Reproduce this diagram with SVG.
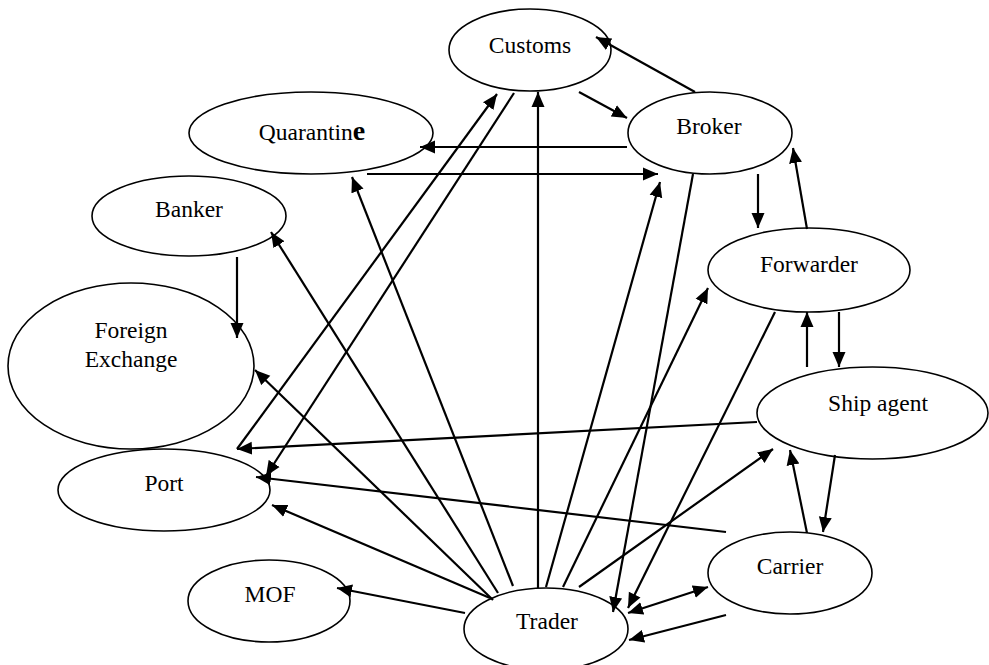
<svg xmlns="http://www.w3.org/2000/svg" width="989" height="665" viewBox="0 0 989 665">
<style>
.node ellipse{fill:#fff;stroke:#000;stroke-width:1.6}
.node text{font-family:"Liberation Serif","Times New Roman",serif;font-size:23.5px;fill:#000;text-anchor:middle}
#connectors line{stroke:#000;stroke-width:2.2;fill:none;marker-end:url(#ah)}
</style>
<defs>
<marker id="ah" markerUnits="userSpaceOnUse" markerWidth="16" markerHeight="14" refX="15" refY="7" orient="auto-start-reverse" viewBox="0 0 16 14">
<path d="M0,0.5 L15,7 L0,13.5 z" fill="#000"/>
</marker>
</defs>
<rect width="989" height="665" fill="#fff"/>
<g id="nodes">
<g id="customs" class="node"><ellipse cx="530" cy="50" rx="81" ry="41"/><text x="530" y="53">Customs</text></g>
<g id="broker" class="node"><ellipse cx="710" cy="133" rx="82" ry="41"/><text x="709" y="134">Broker</text></g>
<g id="quarantine" class="node"><ellipse cx="311" cy="133" rx="122" ry="41"/><text x="312" y="140">Quarantin<tspan font-weight="bold" font-size="28">e</tspan></text></g>
<g id="banker" class="node"><ellipse cx="189" cy="216" rx="97" ry="40"/><text x="189" y="217">Banker</text></g>
<g id="foreign-exchange" class="node"><ellipse cx="131" cy="366" rx="123" ry="83"/><text x="131" y="338">Foreign</text><text x="131" y="367">Exchange</text></g>
<g id="port" class="node"><ellipse cx="164" cy="490" rx="106" ry="41"/><text x="164" y="491">Port</text></g>
<g id="mof" class="node"><ellipse cx="269" cy="601" rx="81" ry="41"/><text x="270" y="602">MOF</text></g>
<g id="trader" class="node"><ellipse cx="546" cy="629" rx="82" ry="41"/><text x="547" y="629">Trader</text></g>
<g id="carrier" class="node"><ellipse cx="790" cy="573" rx="82" ry="41"/><text x="790" y="574">Carrier</text></g>
<g id="ship-agent" class="node"><ellipse cx="872.5" cy="413" rx="115.5" ry="46"/><text x="878" y="411">Ship agent</text></g>
<g id="forwarder" class="node"><ellipse cx="809" cy="270" rx="101" ry="42"/><text x="809" y="272">Forwarder</text></g>
</g>
<g id="connectors">
<line x1="695" y1="92" x2="596" y2="37"/>
<line x1="579" y1="92" x2="627" y2="118"/>
<line x1="627" y1="147" x2="420" y2="147"/>
<line x1="367" y1="174" x2="658" y2="174"/>
<line x1="538" y1="588" x2="538" y2="92"/>
<line x1="237" y1="449" x2="497" y2="94"/>
<line x1="514" y1="93" x2="266" y2="476"/>
<line x1="757" y1="422" x2="237" y2="449"/>
<line x1="726" y1="532" x2="256" y2="477"/>
<line x1="490" y1="598" x2="272" y2="505"/>
<line x1="465" y1="613" x2="337" y2="588"/>
<line x1="493" y1="600" x2="255" y2="370"/>
<line x1="498" y1="593" x2="271" y2="232"/>
<line x1="513" y1="586" x2="352" y2="177"/>
<line x1="546" y1="587" x2="660" y2="182"/>
<line x1="693" y1="174" x2="613" y2="612"/>
<line x1="775" y1="312" x2="628" y2="608"/>
<line x1="563" y1="587" x2="708" y2="288"/>
<line x1="579" y1="587" x2="773" y2="449"/>
<line x1="628" y1="613" x2="708" y2="587" marker-start="url(#ah)"/>
<line x1="726" y1="615" x2="629" y2="640"/>
<line x1="807" y1="533" x2="790" y2="450"/>
<line x1="835" y1="455" x2="823" y2="532"/>
<line x1="839" y1="312" x2="839" y2="367"/>
<line x1="807" y1="367" x2="807" y2="312"/>
<line x1="758" y1="174" x2="758" y2="228"/>
<line x1="807" y1="229" x2="793" y2="148"/>
<line x1="237" y1="257" x2="237" y2="338"/>
</g>
</svg>
